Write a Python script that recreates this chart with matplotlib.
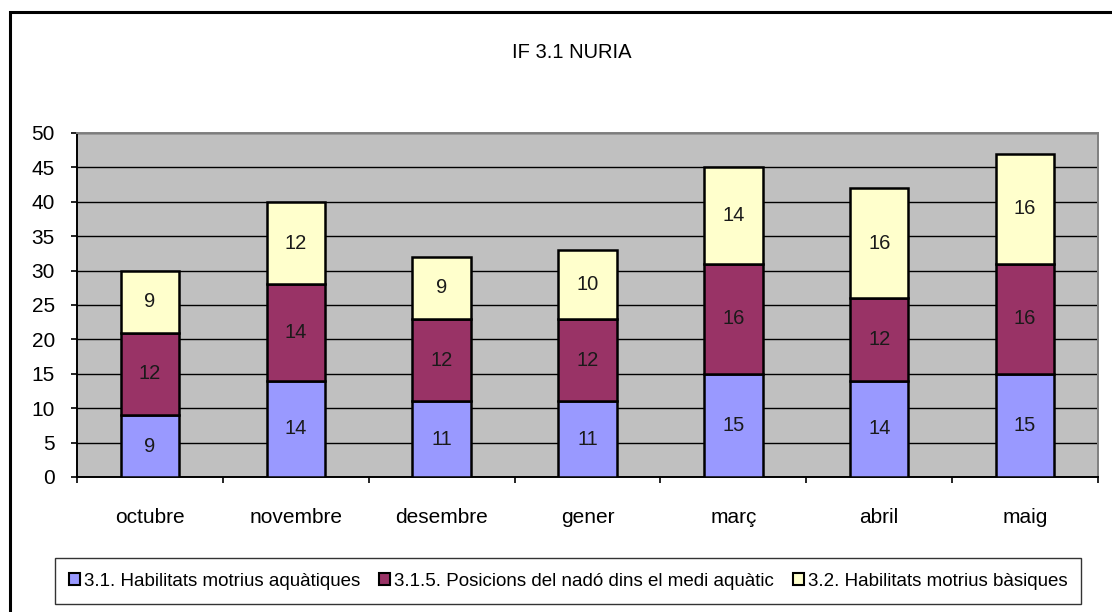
import numpy as np
import matplotlib
matplotlib.use('Agg')
import matplotlib.pyplot as plt
from matplotlib.patches import Rectangle

plt.rcParams['font.family'] = ['Liberation Sans', 'DejaVu Sans']

months = ['octubre', 'novembre', 'desembre', 'gener', 'març', 'abril', 'maig']
aquatiques = [9, 14, 11, 11, 15, 14, 15]
posicions = [12, 14, 12, 12, 16, 12, 16]
basiques = [9, 12, 9, 10, 14, 16, 16]
labels = ['3.1. Habilitats motrius aquàtiques',
          '3.1.5. Posicions del nadó dins el medi aquàtic',
          '3.2. Habilitats motrius bàsiques']
colors = ['#9999FF', '#993366', '#FFFFCC']

W, H = 1112, 612
fig = plt.figure(figsize=(W / 100, H / 100), dpi=100)
fig.patch.set_facecolor('white')

# outer frame (cropped on right/bottom in the original)
fig.patches.append(Rectangle((10 / W, -0.05), 1.2, 1 - 12 / H + 0.05,
                             transform=fig.transFigure, fill=False,
                             edgecolor='black', linewidth=2.2, zorder=0))

ax = fig.add_axes([77 / W, 1 - 477 / H, (1098 - 77) / W, (477 - 133) / H])
ax.set_facecolor('#C0C0C0')

x = np.arange(len(months))
series = [aquatiques, posicions, basiques]
bottom = np.zeros(len(months))
for vals, col, lab in zip(series, colors, labels):
    ax.bar(x, vals, width=0.40, bottom=bottom, color=col,
           edgecolor='black', linewidth=1.8, label=lab, zorder=3)
    for xi, b, v in zip(x, bottom, vals):
        ax.text(xi, b + v / 2, str(v), ha='center', va='center',
                fontsize=14.5, color='#1a1a1a', zorder=4)
    bottom = bottom + np.array(vals)

ax.set_xlim(-0.5, len(months) - 0.5)
ax.set_ylim(0, 50)
ax.set_yticks(range(0, 51, 5))
ax.yaxis.grid(True, color='black', linewidth=1.0, zorder=1)
ax.set_axisbelow(True)

ax.set_xticks(x)
ax.set_xticklabels(months, fontsize=15)
ax.set_xticks(np.arange(-0.5, len(months)), minor=True)
ax.tick_params(axis='x', which='major', length=0, pad=22)
ax.tick_params(axis='x', which='minor', length=4, width=1.2, color='black', direction='out')
ax.tick_params(axis='y', length=4, width=1.2, pad=12, labelsize=15, direction='out')

ax.spines['left'].set_color('black')
ax.spines['left'].set_linewidth(1.4)
ax.spines['bottom'].set_color('black')
ax.spines['bottom'].set_linewidth(1.4)
ax.spines['top'].set_color('#808080')
ax.spines['right'].set_color('#808080')
ax.spines['top'].set_linewidth(1.4)
ax.spines['right'].set_linewidth(1.4)

fig.text(572 / W, 1 - 52 / H, 'IF 3.1 NURIA', ha='center', va='center', fontsize=14.5)

leg = fig.legend(loc='center', bbox_to_anchor=(568 / W, 1 - 581 / H),
                 bbox_transform=fig.transFigure, ncol=3, fontsize=13.5,
                 frameon=True, fancybox=False, handlelength=0.6, handleheight=0.6,
                 handletextpad=0.2, columnspacing=1.0, borderpad=0.75)
leg.get_frame().set_edgecolor('black')
leg.get_frame().set_linewidth(1.0)
for h in leg.legend_handles:
    h.set_linewidth(1.5)

fig.savefig('out.png', dpi=100)
